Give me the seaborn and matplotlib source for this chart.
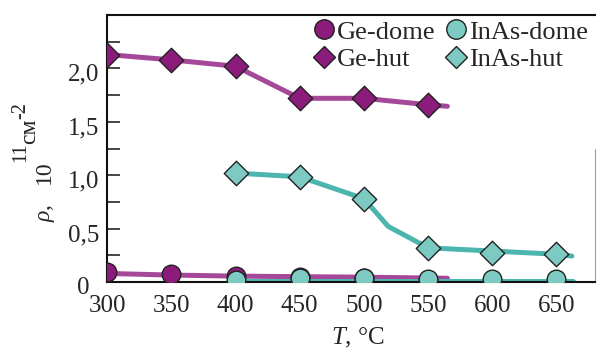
import matplotlib
matplotlib.use("Agg")
import matplotlib.pyplot as plt
import matplotlib.transforms as mtrans
import seaborn as sns
from matplotlib.ticker import MultipleLocator, FixedLocator
from matplotlib.lines import Line2D

# ---- data ----
ge_dome_T = [300, 350, 400, 450, 500, 550]
ge_dome_rho = [0.095, 0.075, 0.055, 0.05, 0.04, 0.01]
ge_hut_T = [300, 350, 400, 450, 500, 550]
ge_hut_rho = [2.13, 2.08, 2.02, 1.72, 1.72, 1.66]
inas_dome_T = [400, 450, 500, 550, 600, 650]
inas_dome_rho = [0.02, 0.035, 0.035, 0.03, 0.03, 0.025]
inas_hut_T = [400, 450, 500, 550, 600, 650]
inas_hut_rho = [1.02, 0.985, 0.78, 0.32, 0.27, 0.26]

# fitted guide curves (as drawn in the figure)
ge_dome_curve_T = [300, 350, 400, 450, 500, 565]
ge_dome_curve_rho = [0.08, 0.065, 0.055, 0.05, 0.045, 0.035]
ge_hut_curve_T = [300, 350, 400, 450, 500, 550, 565]
ge_hut_curve_rho = [2.13, 2.08, 2.02, 1.72, 1.72, 1.66, 1.645]
inas_dome_curve_T = [400, 450, 500, 550, 600, 650, 663]
inas_dome_curve_rho = [0.01, 0.01, 0.01, 0.01, 0.01, 0.01, 0.01]
inas_hut_curve_T = [400, 450, 500, 519, 550, 600, 650, 662]
inas_hut_curve_rho = [1.02, 0.985, 0.78, 0.52, 0.32, 0.29, 0.26, 0.243]

y_ticks = [0, 0.5, 1.0, 1.5, 2.0]
y_tick_labels = ["0", "0,5", "1,0", "1,5", "2,0"]
x_ticks = [300, 350, 400, 450, 500, 550, 600, 650]

ge_mark = "#8C1C7C"
ge_line = "#A6489A"
in_mark = "#7CCAC2"
in_line = "#4CB5AF"

sns.set_style("white")
plt.rcParams["font.family"] = ["Liberation Serif", "DejaVu Serif"]
plt.rcParams["mathtext.fontset"] = "custom"
plt.rcParams["mathtext.rm"] = "Liberation Serif"
plt.rcParams["mathtext.it"] = "Liberation Serif:italic"

W, H = 596, 349
fig = plt.figure(figsize=(W / 100, H / 100), dpi=100)
ax = fig.add_axes([106.5 / W, 1 - 282 / H, (595 - 106.5) / W, (282 - 15) / H])

lw = 3.6
for T, r, c in [(ge_dome_curve_T, ge_dome_curve_rho, ge_line),
                (ge_hut_curve_T, ge_hut_curve_rho, ge_line),
                (inas_dome_curve_T, inas_dome_curve_rho, in_line),
                (inas_hut_curve_T, inas_hut_curve_rho, in_line)]:
    sns.lineplot(x=T, y=r, color=c, lw=lw, ax=ax, sort=False, zorder=2)

ms_c = 180
ms_d = 155
sns.scatterplot(x=ge_dome_T, y=ge_dome_rho, marker="o", s=ms_c, color=ge_mark,
                edgecolor="#222222", linewidth=1.0, ax=ax, zorder=3)
sns.scatterplot(x=ge_hut_T, y=ge_hut_rho, marker="D", s=ms_d, color=ge_mark,
                edgecolor="#222222", linewidth=1.0, ax=ax, zorder=3)
sns.scatterplot(x=inas_dome_T, y=inas_dome_rho, marker="o", s=ms_c, color=in_mark,
                edgecolor="#222222", linewidth=1.0, ax=ax, zorder=4)
sns.scatterplot(x=inas_hut_T, y=inas_hut_rho, marker="D", s=ms_d, color=in_mark,
                edgecolor="#222222", linewidth=1.0, ax=ax, zorder=4)

ax.set_xlim(299.5, 680)
ax.set_ylim(0, 2.5)
ax.xaxis.set_major_locator(FixedLocator(x_ticks))
ax.yaxis.set_major_locator(FixedLocator(y_ticks))
ax.set_yticklabels(y_tick_labels)
ax.yaxis.set_minor_locator(MultipleLocator(0.25))
ax.tick_params(axis="y", which="both", direction="in", length=9, width=1.2,
               left=True, labelsize=18, pad=16.5)
ax.tick_params(axis="x", which="both", length=0, labelsize=18, pad=9)

# y tick labels are centred in a column and sit a little below their ticks
off = mtrans.ScaledTranslation(0, -4 / 100, fig.dpi_scale_trans)
for lab in ax.get_yticklabels():
    lab.set_horizontalalignment("center")
    lab.set_transform(lab.get_transform() + off)

for s in ["top", "bottom", "left"]:
    ax.spines[s].set_linewidth(1.5)
    ax.spines[s].set_color("#111111")
ax.spines["right"].set_visible(False)
ax.plot([1, 1], [0, 0.5], transform=ax.transAxes, color="#999999", lw=0.8, clip_on=False)

ax.set_xlabel(r"$T$, °C", fontsize=18)
ax.xaxis.set_label_coords(0.515, -(326 - 282) / 267)
ax.set_ylabel("")

# y-axis label laid out as in the reference (raised exponent parts)
def vtext(x, y, s, size):
    fig.text(x / W, 1 - y / H, s, rotation=90, rotation_mode="anchor",
             ha="left", va="baseline", fontsize=size)

vtext(50, 222, r"$\rho$,", 17)
vtext(50, 184, "10", 17)
vtext(25.5, 162, "11", 14.5)
vtext(35.5, 144, "см", 17)
vtext(25, 119, "-2", 14.5)

handles = [
    Line2D([], [], ls="none", marker="o", ms=14, mfc=ge_mark, mec="#222222"),
    Line2D([], [], ls="none", marker="D", ms=11, mfc=ge_mark, mec="#222222"),
    Line2D([], [], ls="none", marker="o", ms=14, mfc=in_mark, mec="#222222"),
    Line2D([], [], ls="none", marker="D", ms=11, mfc=in_mark, mec="#222222"),
]
labels = ["Ge-dome", "Ge-hut", "InAs-dome", "InAs-hut"]
ax.legend(handles, labels, ncol=2, loc="upper right", bbox_to_anchor=(1.023, 1.05),
          frameon=False, fontsize=19, handlelength=0.8, handletextpad=0.1,
          columnspacing=0.35, labelspacing=0.15, borderpad=0.2)

fig.savefig("out.png", dpi=100)
